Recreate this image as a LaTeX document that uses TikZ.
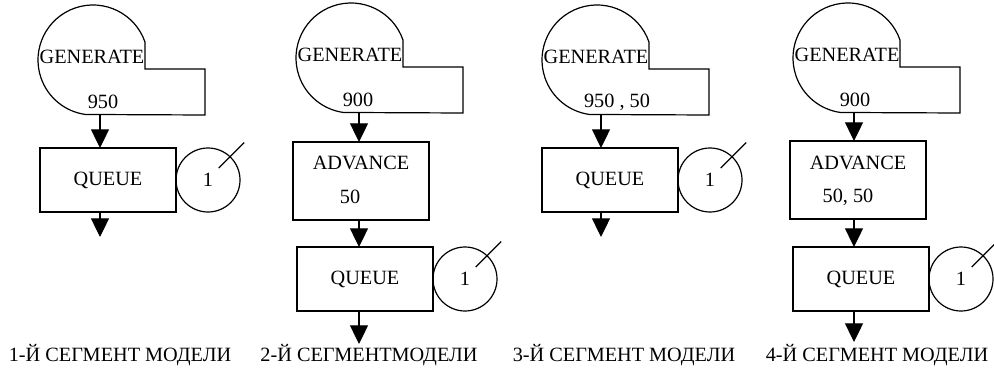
\documentclass[tikz,border=0pt]{standalone}
\usepackage{fontspec}
\setmainfont{Liberation Serif}
\usetikzlibrary{arrows.meta,positioning}

\begin{document}
\begin{tikzpicture}[x=0.75pt, y=0.75pt, line width=0.9pt,
    every node/.style={font=\fontsize{15.2}{18}\selectfont},
    blk/.style={draw, rectangle, minimum width=102pt, minimum height=48pt, inner sep=0pt, outer sep=0pt},
    store/.style={draw, circle, minimum size=48pt, inner sep=0pt, outer sep=0pt},
    flow/.style={-{Triangle[width=13.5pt,length=14pt]}}]
    \useasboundingbox (0,0) rectangle (994,-367);
    \fill[white] (0,0) rectangle (994,-367);

    % generate blocks
    \foreach \n/\cx/\cy/\ax/\vx/\val in {1/93/60/7/10/950, 2/351/58/8/7/900, 3/597/60/4/20/{950 , 50}, 4/848/58/6/7/900} {
        \draw (\cx,-\cy) ++(19:55) arc[start angle=19, end angle=262, radius=55]
            -- (\cx+112,-\cy-55) -- (\cx+112,-\cy-9) -- (\cx+52,-\cy-9) -- cycle;
        \node (gt\n) at (\cx-1,-\cy+3) {GENERATE};
        \node (gv\n) at (\cx+\vx,-\cy-42) {\val};
        \coordinate (g\n) at (\cx+\ax,-\cy-55);
    }

    % advance blocks
    \node[blk, minimum height=58.5pt] (a2) at (361,-181) {};
    \node (at2) at (361,-163) {ADVANCE};
    \node (av2) at (350,-197) {50};
    \node[blk, minimum height=58.5pt] (a4) at (858,-180) {};
    \node (at4) at (858,-163) {ADVANCE};
    \node (av4) at (848,-197) {50, 50};

    % queue blocks
    \node[blk] (q1) at (108,-180) {QUEUE};
    \node[blk] (q2) at (365,-279) {QUEUE};
    \node[blk] (q3) at (610,-180) {QUEUE};
    \node[blk] (q4) at (861,-279) {QUEUE};

    % queues
    \foreach \n in {1,2,3,4} {
        \node[store, right=0pt of q\n] (s\n) {1};
        \draw (s\n.center) ++(48:16) -- ++(45:36);
    }

    % connections
    \coordinate (e1) at (g1 |- 0,-237);
    \coordinate (e2) at (g2 |- 0,-344);
    \coordinate (e3) at (g3 |- 0,-237);
    \coordinate (e4) at (g4 |- 0,-342);
    \draw[flow] (g1) -- (g1 |- q1.north);
    \draw[flow] (g1 |- q1.south) -- (e1);
    \draw[flow] (g2) -- (g2 |- a2.north);
    \draw[flow] (g2 |- a2.south) -- (g2 |- q2.north);
    \draw[flow] (g2 |- q2.south) -- (e2);
    \draw[flow] (g3) -- (g3 |- q3.north);
    \draw[flow] (g3 |- q3.south) -- (e3);
    \draw[flow] (g4) -- (g4 |- a4.north);
    \draw[flow] (g4 |- a4.south) -- (g4 |- q4.north);
    \draw[flow] (g4 |- q4.south) -- (e4);

    % labels
    \foreach \n/\x/\txt in {1/120/1-Й СЕГМЕНТ МОДЕЛИ, 2/369/2-Й СЕГМЕНТМОДЕЛИ, 3/624/3-Й СЕГМЕНТ МОДЕЛИ, 4/877/4-Й СЕГМЕНТ МОДЕЛИ} {
        \node (l\n) at (\x,-355) {\txt};
    }
\end{tikzpicture}
\end{document}
